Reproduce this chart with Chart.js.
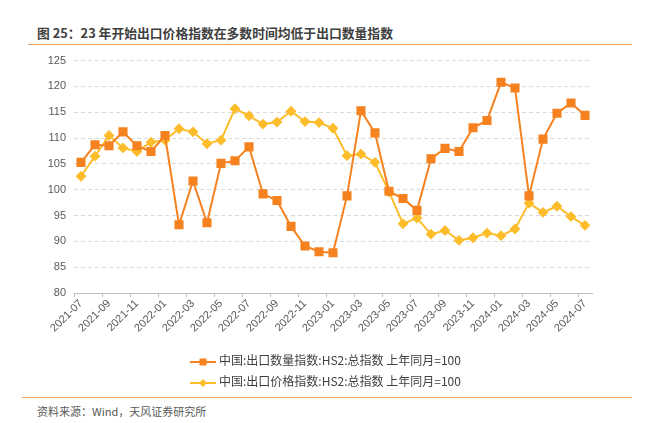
<!DOCTYPE html>
<html>
<head>
<meta charset="utf-8">
<script src="https://cdn.jsdelivr.net/npm/chart.js@4"></script>
<style>
  body { margin: 0; background: #fff; font-family: "Noto Sans CJK SC", "Liberation Sans", sans-serif; }
  #wrap { position: relative; width: 648px; height: 423px; }
  #title { position: absolute; left: 37px; top: 23px; font-size: 12.8px; font-weight: bold; color: #404040; white-space: nowrap; }
  .rule { position: absolute; left: 28px; width: 604px; height: 1px; background: #F5A05A; }
  #box { position: absolute; left: 0; top: 46px; width: 648px; height: 299px; }
  #legend { position: absolute; left: 190px; top: 349px; font-size: 12px; color: #404040; }
  .item { height: 21px; line-height: 21px; white-space: nowrap; }
  .item canvas { vertical-align: middle; margin-right: 3px; }
  #source { position: absolute; left: 37px; top: 403px; font-size: 11px; color: #595959; }
</style>
</head>
<body>
<div id="wrap">
  <div id="title">图 25：23 年开始出口价格指数在多数时间均低于出口数量指数</div>
  <div class="rule" style="top:44px"></div>
  <div id="box"><canvas id="grafico" width="648" height="299"></canvas></div>
  <div id="legend"></div>
  <div class="rule" style="top:397px;left:22px;width:610px"></div>
  <div id="source">资料来源：Wind，天风证券研究所</div>
</div>
<script>
var meses = ['2021-07','2021-08','2021-09','2021-10','2021-11','2021-12',
  '2022-01','2022-02','2022-03','2022-04','2022-05','2022-06','2022-07','2022-08','2022-09','2022-10','2022-11','2022-12',
  '2023-01','2023-02','2023-03','2023-04','2023-05','2023-06','2023-07','2023-08','2023-09','2023-10','2023-11','2023-12',
  '2024-01','2024-02','2024-03','2024-04','2024-05','2024-06','2024-07'];

var cantidad = [105.3,108.7,108.5,111.2,108.5,107.4,
  110.5,93.2,101.7,93.6,105.1,105.6,108.3,99.2,97.9,92.9,89.1,88.0,
  87.8,98.8,115.3,111.0,99.7,98.3,96.0,106.0,108.0,107.4,112.0,113.4,
  120.8,119.7,98.8,109.8,114.8,116.8,114.4];

var precio = [102.6,106.5,110.5,108.1,107.4,109.2,
  109.6,111.8,111.2,108.9,109.6,115.7,114.3,112.7,113.1,115.2,113.2,113.0,
  111.9,106.6,106.9,105.3,99.6,93.4,94.5,91.4,92.1,90.2,90.7,91.6,
  91.1,92.4,97.4,95.6,96.8,94.8,93.1];

var nombres = ['中国:出口数量指数:HS2:总指数 上年同月=100', '中国:出口价格指数:HS2:总指数 上年同月=100'];
var colores = ['#F5821F', '#FDBD2A'];
var estilos = ['rect', 'rectRot'];

var ejeY = { min: 80, max: 125, paso: 5 };

graficoIndices();

function graficoIndices() {
    var ctx = document.getElementById('grafico').getContext('2d');
    var chart = new Chart(ctx, {
        type: 'line',
        data: {
            labels: meses,
            datasets: [{
                label: nombres[0],
                data: cantidad,
                borderColor: colores[0],
                backgroundColor: colores[0],
                borderWidth: 2,
                pointStyle: estilos[0],
                pointRadius: 5,
                pointHoverRadius: 5,
                tension: 0,
                order: 1
            }, {
                label: nombres[1],
                data: precio,
                borderColor: colores[1],
                backgroundColor: colores[1],
                borderWidth: 2,
                pointStyle: estilos[1],
                pointRadius: 4,
                pointHoverRadius: 4,
                tension: 0,
                order: 2
            }]
        },
        options: {
            responsive: false,
            animation: false,
            devicePixelRatio: 1,
            layout: { padding: { left: 0, right: 56, top: 6, bottom: 0 } },
            plugins: {
                legend: { display: false },
                tooltip: { enabled: false }
            },
            scales: {
                x: {
                    offset: true,
                    grid: {
                        offset: true,
                        drawOnChartArea: false,
                        drawTicks: true,
                        tickLength: 4,
                        color: function (c) { return c.index % 2 === 0 ? '#BFBFBF' : 'rgba(0,0,0,0)'; }
                    },
                    border: { display: true, color: '#BFBFBF' },
                    ticks: {
                        autoSkip: false,
                        minRotation: 45,
                        maxRotation: 45,
                        color: '#595959',
                        font: { size: 11, family: 'Liberation Sans' },
                        padding: 0,
                        callback: function (v, i) { return i % 2 === 0 ? meses[i] : ''; }
                    },
                    afterFit: function (s) { s.height = 52; }
                },
                y: {
                    min: ejeY.min,
                    max: ejeY.max,
                    ticks: {
                        stepSize: ejeY.paso,
                        color: '#595959',
                        font: { size: 11, family: 'Liberation Sans' },
                        padding: 8
                    },
                    grid: { color: '#D9D9D9', drawTicks: false },
                    border: { display: false, dash: [4, 3] },
                    afterFit: function (s) { s.width = 74; }
                }
            }
        }
    });

    // leyenda a mano: linea + marcador
    var leyenda = document.getElementById('legend');
    nombres.forEach(function (n, k) {
        var div = document.createElement('div');
        div.className = 'item';
        var c = document.createElement('canvas');
        c.width = 26; c.height = 10;
        var g = c.getContext('2d');
        g.strokeStyle = colores[k]; g.fillStyle = colores[k]; g.lineWidth = 2;
        g.beginPath(); g.moveTo(0, 5); g.lineTo(26, 5); g.stroke();
        if (k === 0) { g.fillRect(9.5, 1.5, 7, 7); }
        else { g.beginPath(); g.moveTo(13, 1); g.lineTo(17, 5); g.lineTo(13, 9); g.lineTo(9, 5); g.closePath(); g.fill(); }
        div.appendChild(c);
        div.appendChild(document.createTextNode(n));
        leyenda.appendChild(div);
    });
}//graficoIndices()
</script>
</body>
</html>
